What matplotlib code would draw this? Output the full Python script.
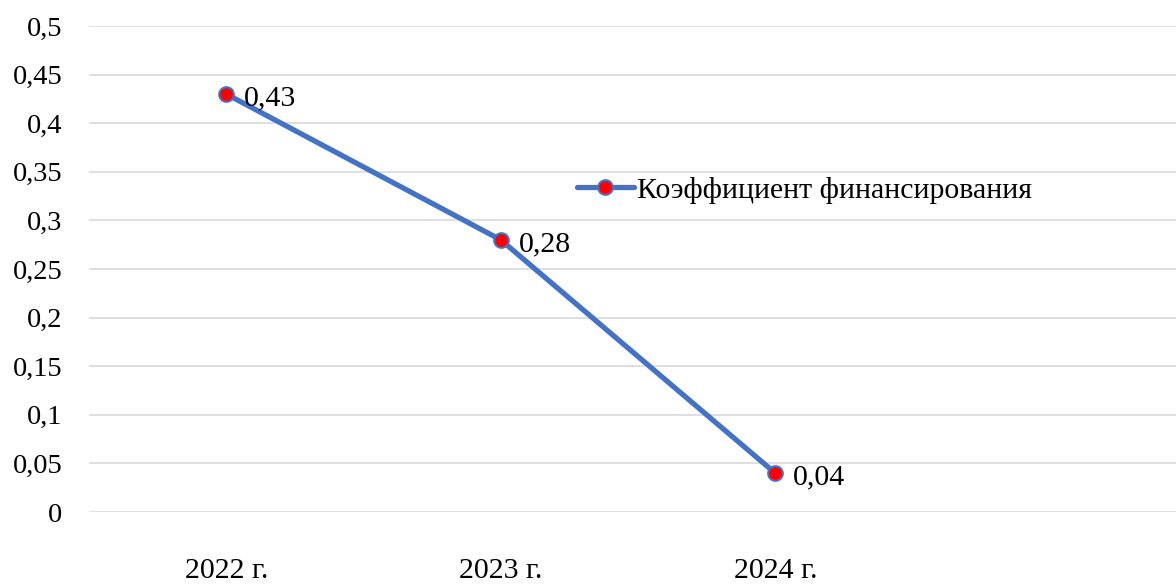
import matplotlib
matplotlib.use("Agg")
import matplotlib.pyplot as plt
from matplotlib.ticker import FuncFormatter, MultipleLocator

plt.rcParams['font.family'] = ['Liberation Serif', 'DejaVu Serif']

years = ['2022 г.', '2023 г.', '2024 г.']
values = [0.43, 0.28, 0.04]
series_name = 'Коэффициент финансирования'
labels = ['0,43', '0,28', '0,04']

fig = plt.figure(figsize=(11.76, 5.85), dpi=100)
# область построения уходит за правый край, как в исходнике
ax = fig.add_axes([89 / 1176, 73 / 585, 1098 / 1176, 486 / 585])

x = list(range(len(years)))
ax.plot(x, values, color='#4472C4', lw=3.8, marker='o', ms=10.5,
        mfc='#FF0000', mec='#4472C4', mew=1.5, label=series_name,
        solid_capstyle='round', zorder=3)

for xi, v, t in zip(x, values, labels):
    ax.annotate(t, (xi, v), xytext=(13, -1), textcoords='offset points',
                va='center_baseline', ha='left', fontsize=21.5)

ax.set_xlim(-0.5, 3.5)
ax.set_ylim(0, 0.5)
ax.yaxis.set_major_locator(MultipleLocator(0.05))
ax.yaxis.set_major_formatter(FuncFormatter(lambda v, p: f"{round(v, 2):g}".replace('.', ',')))
ax.set_xticks(x)
ax.set_xticklabels(years)
ax.tick_params(axis='both', length=0)
ax.tick_params(axis='y', pad=19, labelsize=20.5)
ax.tick_params(axis='x', pad=33, labelsize=21.5)
ax.grid(axis='y', color='#D9D9D9', lw=1.2)
ax.set_axisbelow(True)
for s in ax.spines.values():
    s.set_visible(False)

fig.legend(loc='center left', bbox_to_anchor=(577 / 1176, 1 - 190 / 585),
           frameon=False, fontsize=21.5, handlelength=1.9, handletextpad=0.1,
           borderpad=0, borderaxespad=0)

fig.savefig('out.png', dpi=100)
